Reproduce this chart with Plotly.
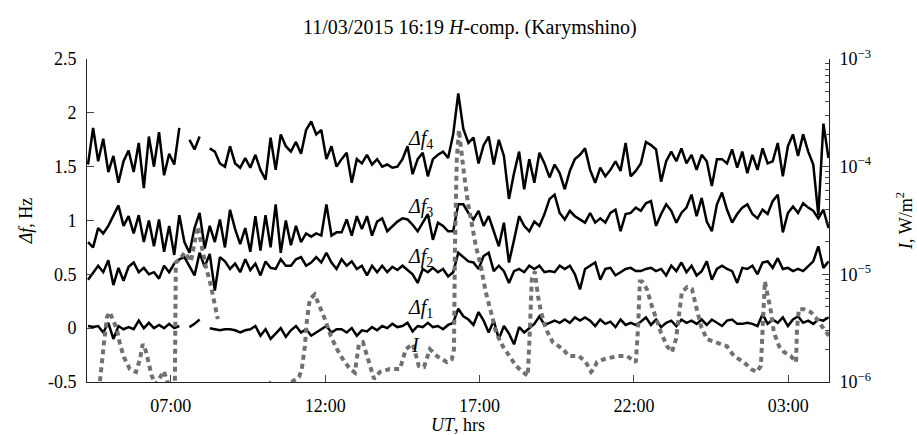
import pandas as pd
import plotly.graph_objects as go

# ---------------- data ----------------
title_text = "11/03/2015 16:19 <i>H</i>-comp. (Karymshino)"
t_start = "2015-03-11 04:19"
t_end = "2015-03-12 04:18"
x_range = ["2015-03-11 04:17", "2015-03-12 04:19"]
x_tick_vals = ["2015-03-11 07:00", "2015-03-11 12:00", "2015-03-11 17:00",
               "2015-03-11 22:00", "2015-03-12 03:00"]
x_tick_text = ["07:00", "12:00", "17:00", "22:00", "03:00"]
y_tick_vals = [-0.5, 0, 0.5, 1, 1.5, 2, 2.5]
y_tick_text = ["-0.5", "0", "0.5", "1", "1.5", "2", "2.5"]
y2_tick_vals = [1e-6, 1e-5, 1e-4, 1e-3]
y2_tick_text = ["10<sup>\u22126</sup>", "10<sup>\u22125</sup>", "10<sup>\u22124</sup>", "10<sup>\u22123</sup>"]

df4 = [1.52, 1.86, 1.55, 1.76, 1.45, 1.60, 1.35, 1.55, 1.65, 1.45,
       1.72, 1.30, 1.78, 1.50, 1.82, 1.42, 1.62, 1.52, 1.86, None,
       1.75, 1.66, 1.78, None, 1.67, 1.64, 1.53, 1.50, 1.69, 1.53,
       1.49, 1.58, 1.49, 1.61, 1.47, 1.38, 1.77, 1.47, 1.80, 1.69,
       1.64, 1.73, 1.62, 1.84, 1.92, 1.80, 1.84, 1.57, 1.69, 1.50,
       1.57, 1.63, 1.35, 1.57, 1.53, 1.61, 1.52, 1.57, 1.50, 1.52,
       1.49, 1.50, 1.57, 1.69, 1.43, 1.57, 1.63, 1.41, 1.57, 1.61,
       1.64, 1.58, 1.80, 2.18, 1.85, 1.72, 1.77, 1.53, 1.70, 1.78,
       1.52, 1.75, 1.60, 1.20, 1.44, 1.64, 1.29, 1.57, 1.35, 1.63,
       1.53, 1.40, 1.52, 1.44, 1.29, 1.46, 1.57, 1.61, 1.67, 1.47,
       1.35, 1.49, 1.41, 1.47, 1.55, 1.46, 1.72, 1.41, 1.46, 1.53,
       1.73, 1.70, 1.66, 1.36, 1.55, 1.64, 1.55, 1.67, 1.53, 1.61,
       1.47, 1.61, 1.55, 1.32, 1.57, 1.57, 1.53, 1.66, 1.49, 1.64,
       1.44, 1.61, 1.47, 1.67, 1.53, 1.55, 1.72, 1.41, 1.69, 1.80,
       1.60, 1.80, 1.64, 1.52, 1.05, 1.90, 1.58]

df3 = [0.80, 0.75, 0.93, 0.88, 0.95, 1.05, 1.14, 0.95, 1.04, 0.88,
       1.05, 0.80, 1.00, 0.76, 1.01, 0.71, 0.95, 0.68, 1.05, 0.80,
       0.70, 0.93, 1.07, 0.74, 0.95, 0.80, 1.01, 0.75, 1.10, 0.92,
       0.78, 0.93, 0.71, 1.04, 0.72, 1.05, 0.75, 1.15, 0.70, 1.00,
       0.77, 0.95, 0.80, 0.88, 0.85, 0.88, 0.86, 1.15, 0.86, 0.89,
       0.89, 1.01, 0.86, 1.04, 0.92, 1.04, 0.86, 0.99, 1.02, 0.90,
       0.95, 0.99, 1.02, 1.01, 0.96, 0.90, 0.98, 1.06, 0.82, 0.98,
       0.95, 0.90, 0.90, 1.15, 1.15, 1.07, 1.01, 1.09, 0.95, 1.04,
       0.90, 0.76, 0.98, 0.61, 0.82, 1.04, 0.95, 0.90, 0.99, 0.95,
       1.06, 1.20, 1.24, 1.07, 1.01, 1.09, 1.04, 1.01, 0.98, 1.07,
       0.98, 1.02, 0.98, 1.07, 1.10, 0.90, 1.06, 1.07, 1.12, 1.09,
       1.16, 1.18, 0.95, 1.06, 1.15, 1.09, 0.98, 1.07, 1.12, 1.24,
       1.04, 1.21, 0.99, 0.90, 1.15, 1.26, 1.10, 0.98, 1.06, 1.12,
       1.15, 1.06, 1.02, 1.10, 1.06, 1.18, 1.24, 0.89, 1.07, 1.13,
       1.07, 1.16, 1.12, 1.09, 1.02, 1.10, 0.93]

df2 = [0.45, 0.52, 0.58, 0.52, 0.63, 0.40, 0.56, 0.44, 0.57, 0.61,
       0.52, 0.56, 0.50, 0.52, 0.46, 0.58, 0.52, 0.60, 0.64, 0.66,
       0.57, 0.49, 0.70, 0.57, 0.69, 0.35, 0.66, 0.62, 0.55, 0.60,
       0.52, 0.64, 0.54, 0.60, 0.49, 0.62, 0.56, 0.55, 0.64, 0.58,
       0.58, 0.64, 0.66, 0.58, 0.61, 0.66, 0.61, 0.70, 0.61, 0.55,
       0.64, 0.58, 0.62, 0.55, 0.58, 0.49, 0.58, 0.52, 0.58, 0.52,
       0.57, 0.54, 0.58, 0.54, 0.50, 0.42, 0.55, 0.52, 0.56, 0.52,
       0.55, 0.48, 0.52, 0.70, 0.66, 0.62, 0.61, 0.55, 0.67, 0.70,
       0.53, 0.58, 0.53, 0.42, 0.53, 0.55, 0.52, 0.58, 0.55, 0.58,
       0.52, 0.53, 0.52, 0.58, 0.55, 0.58, 0.50, 0.36, 0.55, 0.58,
       0.61, 0.45, 0.55, 0.56, 0.49, 0.52, 0.55, 0.56, 0.53, 0.53,
       0.55, 0.56, 0.53, 0.55, 0.49, 0.58, 0.53, 0.61, 0.52, 0.58,
       0.49, 0.53, 0.62, 0.45, 0.55, 0.58, 0.55, 0.53, 0.42, 0.56,
       0.55, 0.58, 0.50, 0.61, 0.62, 0.56, 0.65, 0.55, 0.56, 0.53,
       0.55, 0.53, 0.58, 0.62, 0.76, 0.56, 0.62]

df1 = [0.02, 0.01, 0.02, -0.04, 0.05, -0.10, 0.02, -0.01, 0.01, -0.01,
       0.07, 0.00, 0.05, 0.00, 0.03, 0.00, 0.04, 0.00, 0.02, None,
       0.01, 0.04, 0.08, None, 0.00, -0.01, -0.02, -0.01, -0.01, -0.02,
       -0.04, -0.02, -0.01, 0.02, -0.07, -0.01, -0.10, -0.05, 0.00, -0.08,
       -0.02, 0.02, -0.04, -0.01, -0.07, -0.04, -0.01, 0.02, -0.04, -0.01,
       -0.01, -0.04, 0.00, -0.07, -0.02, -0.03, 0.01, -0.02, 0.02, 0.00,
       0.04, 0.01, 0.02, 0.05, -0.03, 0.02, 0.01, 0.05, 0.01, 0.02,
       -0.01, 0.03, 0.05, 0.18, 0.11, 0.08, 0.03, 0.15, 0.07, -0.04,
       0.07, -0.10, 0.02, -0.05, -0.15, 0.01, -0.04, 0.00, 0.04, 0.11,
       0.03, 0.05, 0.07, 0.05, 0.08, 0.05, 0.10, 0.07, 0.10, 0.07,
       0.02, 0.08, 0.04, 0.06, 0.01, 0.08, 0.03, 0.05, 0.03, 0.06,
       0.10, 0.03, 0.08, 0.01, 0.05, 0.07, 0.02, 0.08, 0.05, 0.07,
       0.04, 0.08, 0.03, 0.08, 0.05, 0.02, 0.07, 0.08, 0.04, 0.04,
       0.05, 0.04, 0.02, 0.13, 0.04, 0.08, 0.05, 0.10, 0.02, 0.08,
       0.11, 0.05, 0.07, 0.04, 0.08, 0.07, 0.10]

# X-ray flux I (hours after 2015-03-11 00:00, W/m^2)
I_hours = [4.57, 4.70, 4.83, 4.93, 5.02, 5.15, 5.25, 5.35, 5.48, 5.67,
           5.87, 6.00, 6.09, 6.19, 6.29, 6.38, 6.51, 6.64, 6.77, 6.90,
           7.03, 7.13, 7.16, 7.29, 7.45, 7.65, 7.87, 8.04, 8.13, 8.30,
           8.43, 8.52, 8.60, 9.24, 9.72, 9.95, 10.14, 10.37, 10.69, 10.95,
           11.15, 11.24, 11.34, 11.41, 11.50, 11.66, 11.83, 11.99, 12.18, 12.38,
           12.57, 12.80, 12.96, 13.09, 13.22, 13.38, 13.58, 13.77, 14.09, 14.42,
           14.61, 14.84, 15.03, 15.20, 15.39, 15.62, 15.94, 16.10, 16.17, 16.20,
           16.26, 16.33, 16.39, 16.49, 16.62, 16.72, 16.88, 17.04, 17.20, 17.37,
           17.53, 17.75, 17.95, 18.18, 18.40, 18.56, 18.63, 18.69, 18.79, 18.89,
           18.99, 19.15, 19.37, 19.70, 19.89, 20.22, 20.44, 20.61, 20.70, 20.80,
           21.03, 21.25, 21.45, 21.77, 22.06, 22.13, 22.19, 22.26, 22.42, 22.58,
           22.71, 22.87, 23.07, 23.23, 23.36, 23.46, 23.55, 23.72, 23.88, 24.01,
           24.17, 24.36, 24.69, 25.01, 25.24, 25.56, 25.79, 25.98, 26.11, 26.18,
           26.24, 26.31, 26.44, 26.53, 26.70, 26.86, 27.08, 27.25, 27.28, 27.34,
           27.51, 27.73, 27.93, 28.15, 28.32]
I_vals = [7.0e-7, 1.0e-6, 2.25e-6, 4.0e-6, 4.45e-6, 3.67e-6, 3.1e-6, 2.25e-6, 1.7e-6, 1.32e-6,
          1.24e-6, 1.63e-6, 2.25e-6, 1.94e-6, 1.47e-6, 1.14e-6, 9.5e-7, 1.11e-6, 1.26e-6, 9.8e-7,
          8.7e-7, 1.0e-6, 1.29e-5, 1.38e-5, 1.6e-5, 1.32e-5, 2.78e-5, 1.6e-5, 1.19e-5, 7.75e-6,
          5.06e-6, 3.83e-6, None, 6.0e-7, 5.0e-7, 8.0e-7, 1.02e-6, 8.7e-7, 9.3e-7, 1.02e-6,
          1.11e-6, 1.32e-6, 2.15e-6, 3.83e-6, 5.87e-6, 6.5e-6, 5.06e-6, 3.83e-6, 2.67e-6, 2.02e-6,
          1.63e-6, 1.32e-6, 1.22e-6, 2.25e-6, 2.34e-6, 1.63e-6, 1.07e-6, 1.24e-6, 1.32e-6, 1.32e-6,
          2.02e-6, 2.25e-6, 1.41e-6, 1.38e-6, 2.02e-6, 1.74e-6, 1.53e-6, 1.63e-6, 2.02e-6, 1.7e-5,
          1.16e-4, 2.2e-4, 1.53e-4, 8.8e-5, 4.64e-5, 3.23e-5, 1.82e-5, 1.19e-5, 6.81e-6, 4.45e-6,
          2.9e-6, 2.15e-6, 1.74e-6, 1.41e-6, 1.24e-6, 1.14e-6, 3.1e-6, 8.99e-6, 1.06e-5, 6.3e-6,
          4.45e-6, 3.1e-6, 2.34e-6, 2.02e-6, 1.74e-6, 1.74e-6, 1.53e-6, 1.24e-6, 1.32e-6, 1.53e-6,
          1.63e-6, 1.7e-6, 1.74e-6, 1.74e-6, 1.53e-6, 3.1e-6, 8.6e-6, 8.6e-6, 7.26e-6, 5.06e-6,
          3.83e-6, 2.9e-6, 2.15e-6, 1.9e-6, 2.5e-6, 4.45e-6, 6.81e-6, 7.6e-6, 7.26e-6, 5.06e-6,
          3.3e-6, 2.5e-6, 2.34e-6, 2.15e-6, 1.74e-6, 1.53e-6, 1.32e-6, 1.24e-6, 1.41e-6, 3.1e-6,
          8.6e-6, 6.81e-6, 4.45e-6, 2.9e-6, 2.15e-6, 1.9e-6, 1.74e-6, 1.53e-6, 3.1e-6, 4.74e-6,
          4.74e-6, 4.45e-6, 3.83e-6, 3.1e-6, 2.67e-6]

labels = ["<i>\u0394f</i><sub>4</sub>", "<i>\u0394f</i><sub>3</sub>",
          "<i>\u0394f</i><sub>2</sub>", "<i>\u0394f</i><sub>1</sub>", "<i>I</i>"]
label_times = ["2015-03-11 15:06", "2015-03-11 15:06", "2015-03-11 15:06",
               "2015-03-11 15:06", "2015-03-11 14:56"]
label_y = [1.75, 1.12, 0.66, 0.185, -0.16]

# ---------------- figure ----------------
FONT = "Liberation Serif"
times = pd.date_range(t_start, t_end, periods=len(df1))
base = pd.Timestamp("2015-03-11")
I_time = base + pd.to_timedelta(I_hours, unit="h")

fig = go.Figure()
for s in (df4, df3, df2, df1):
    fig.add_trace(go.Scatter(x=times, y=s, mode="lines", yaxis="y",
                             line=dict(color="black", width=2.5),
                             connectgaps=False, showlegend=False, hoverinfo="skip"))
fig.add_trace(go.Scatter(x=I_time, y=I_vals, mode="lines", yaxis="y2",
                         line=dict(color="#717171", width=4, dash="5px,4px"),
                         connectgaps=False, showlegend=False, hoverinfo="skip"))

for txt, tx, ty in zip(labels, label_times, label_y):
    fig.add_annotation(x=tx, y=ty, xref="x", yref="y", text=txt, showarrow=False,
                       font=dict(family=FONT, size=20, color="black"),
                       xanchor="center", yanchor="middle")

axis_common = dict(showline=True, linecolor="#222222", linewidth=1, ticks="inside",
                   ticklen=7, tickcolor="#444444", showgrid=False, zeroline=False,
                   automargin=False,
                   tickfont=dict(family=FONT, size=18, color="black"))

fig.update_layout(
    width=917, height=435,
    margin=dict(l=87, r=88, t=59, b=53),
    paper_bgcolor="white", plot_bgcolor="white",
    font=dict(family=FONT, size=18, color="black"),
    title=dict(text=title_text, x=0.516, xref="paper", xanchor="center",
               y=1 - 27 / 435, yref="container", yanchor="middle",
               font=dict(family=FONT, size=20, color="black")),
    xaxis=dict(type="date", range=x_range, tickmode="array", tickvals=x_tick_vals,
               ticktext=x_tick_text, ticklabelstandoff=7,
               title=dict(text="<i>UT</i>, hrs", standoff=4,
                          font=dict(family=FONT, size=18)),
               **axis_common),
    yaxis=dict(range=[-0.5, 2.5], tickmode="array", tickvals=y_tick_vals,
               ticktext=y_tick_text, ticklabelstandoff=6,
               title=dict(text="<i>\u0394f</i>, Hz", standoff=10,
                          font=dict(family=FONT, size=18)),
               **axis_common),
    yaxis2=dict(type="log", range=[-6, -3], overlaying="y", side="right",
                tickmode="array", tickvals=y2_tick_vals, ticktext=y2_tick_text,
                ticklabelstandoff=6,
                minor=dict(tickmode="array",
                           tickvals=[k * 10.0 ** e for e in (-6, -5, -4) for k in range(2, 10)],
                           ticks="inside", ticklen=4, tickcolor="#444444", showgrid=False),
                title=dict(text="<i>I</i>, W/m<sup>2</sup>", standoff=28,
                           font=dict(family=FONT, size=18)),
                **axis_common),
)

fig.write_html("out.html")
